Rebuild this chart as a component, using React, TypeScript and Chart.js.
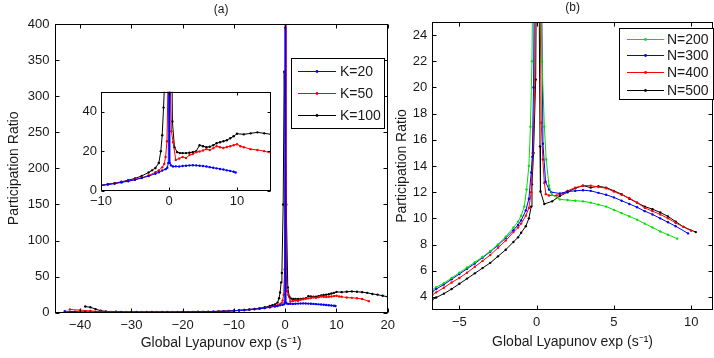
import React, { useEffect, useRef } from 'react';
import { Chart, registerables } from 'chart.js';
Chart.register(...registerables);

const FONT = '"Liberation Sans", Arial, Helvetica, sans-serif';

// ---------- shared text ----------
const xLabel = 'Global Lyapunov exp (s\u207B\u00B9)';
const yLabel = 'Participation Ratio';

// ---------- panel (a) ----------
const aTitle = '(a)';
const aXTicks = [-40, -30, -20, -10, 0, 10, 20];
const aYTicks = [0, 50, 100, 150, 200, 250, 300, 350, 400];
const insetXTicks = [-10, 0, 10];
const insetYTicks = [0, 20, 40];
const aLabels = ['K=20', 'K=50', 'K=100'];

const k20X = [-43, -41, -39, -37, -35, -32, -29, -26, -23, -20, -17, -14, -12, -10, -9, -8, -7, -6, -5, -4, -3, -2, -1.5, -1, -0.5, -0.25, -0.1, 0, 0.1, 0.3, 0.6, 1, 1.5, 2, 2.5, 3, 3.5, 4, 4.5, 5, 5.5, 6, 6.5, 7, 7.5, 8, 8.5, 9, 9.5, 9.8];
const k20Y = [2.0, 1.5, 1.2, 1.0, 0.9, 0.9, 0.9, 1.0, 1.0, 1.1, 1.3, 1.6, 2.0, 2.6, 3.1, 3.6, 4.2, 4.8, 5.5, 6.4, 7.4, 8.6, 9.3, 10.2, 10.9, 11.6, 14, 395, 14, 12.8, 12.2, 12.3, 12.2, 12.5, 12.6, 12.8, 12.9, 12.8, 12.6, 12.5, 12.2, 11.9, 11.6, 11.3, 11.0, 10.7, 10.3, 10.0, 9.6, 9.2];

const k50X = [-42, -40, -38, -36, -34, -31, -28, -25, -22, -19, -16, -13, -11, -10, -9, -8, -7, -6, -5, -4, -3, -2, -1.5, -1, -0.7, -0.5, -0.3, -0.12, 0, 0.15, 0.35, 0.6, 1.0, 1.5, 2.0, 2.5, 3.0, 3.5, 4.0, 4.5, 5.0, 5.5, 6.0, 6.5, 7.0, 7.5, 8.0, 8.5, 9.0, 9.5, 10.0, 10.5, 11, 12, 13, 14, 15, 16.3];
const k50Y = [4.5, 3.5, 2.5, 1.6, 1.2, 1.0, 1.0, 1.0, 1.1, 1.2, 1.4, 1.8, 2.3, 2.7, 3.2, 3.7, 4.3, 5.0, 5.7, 6.6, 7.7, 9.3, 10.3, 11.8, 13.5, 17, 25, 60, 420, 60, 30, 24.5, 15.5, 16.3, 17, 16.5, 18, 18.5, 19.5, 19.8, 20.3, 21, 20.6, 21.5, 22.5, 22, 21.6, 22.1, 22.5, 23, 23.5, 22.5, 22, 21, 20.6, 20, 19, 16];

const k100X = [-39, -38, -37, -36, -35, -33, -30, -27, -24, -21, -18, -15, -13, -11, -10, -9, -8, -7, -6, -5, -4, -3, -2.5, -2, -1.5, -1.2, -1, -0.8, -0.65, -0.4, -0.2, 0.2, 0.5, 0.8, 1.2, 1.6, 2, 2.5, 3, 3.5, 4, 4.5, 5, 5.5, 6, 6.5, 7, 7.5, 8, 8.5, 9, 9.5, 10, 11, 12, 13, 14, 15, 16, 17, 18, 19, 20];
const k100Y = [8.5, 7.5, 5, 2.8, 1.8, 1.3, 1.1, 1.0, 1.0, 1.1, 1.2, 1.5, 1.9, 2.4, 2.8, 3.3, 3.8, 4.5, 5.3, 6.2, 7.5, 9.2, 10.3, 11.5, 14, 20, 28, 42, 55, 150, 334, 150, 35, 22, 19.5, 19, 19, 19, 19.2, 19.5, 20, 23, 22.5, 22, 22.2, 23, 24, 24.5, 25, 25.5, 26.5, 27.5, 28.8, 28.5, 29, 29.5, 29, 28.5, 27.5, 26, 25, 23.5, 22];

// ---------- panel (b) ----------
const bTitle = '(b)';
const bXTicks = [-5, 0, 5, 10];
const bYTicks = [4, 6, 8, 10, 12, 14, 16, 18, 20, 22, 24];
const bLabels = ['N=200', 'N=300', 'N=400', 'N=500'];

const n200X = [-6.75, -6.5, -6, -5.5, -5, -4.5, -4, -3.5, -3, -2.5, -2, -1.5, -1.2, -1, -0.8, -0.65, -0.5, -0.4, -0.3, -0.2, 0.2, 0.35, 0.5, 0.62, 0.8, 1.0, 1.5, 2, 2.5, 3, 3.5, 4, 4.5, 5, 5.5, 6, 6.5, 7, 7.5, 8, 8.5, 9.1];
const n200Y = [4.55, 4.75, 5.05, 5.45, 5.85, 6.25, 6.65, 7.05, 7.5, 8.0, 8.6, 9.3, 9.75, 10.2, 10.9, 12.2, 14, 17, 22, 35, 35, 22, 17, 14.5, 12.5, 11.8, 11.45, 11.4, 11.35, 11.3, 11.2, 11.05, 10.9, 10.65, 10.4, 10.15, 9.9, 9.6, 9.3, 9.0, 8.75, 8.45];

const n300X = [-6.75, -6.5, -6, -5.5, -5, -4.5, -4, -3.5, -3, -2.5, -2, -1.5, -1.2, -1, -0.7, -0.5, -0.35, -0.28, -0.2, -0.1, 0.3, 0.41, 0.58, 0.8, 0.95, 1.5, 2, 2.5, 3, 3.5, 4, 4.5, 5, 5.5, 6, 6.5, 7, 7.5, 8, 8.5, 9, 9.8];
const n300Y = [4.4, 4.6, 4.95, 5.35, 5.75, 6.15, 6.55, 7.0, 7.45, 7.95, 8.5, 9.1, 9.5, 9.85, 10.6, 11.5, 13.5, 14.7, 20, 35, 30, 15.7, 12.8, 12.2, 12.0, 11.9, 12.05, 12.1, 12.15, 12.1, 11.95, 11.8, 11.6, 11.35, 11.1, 10.85, 10.55, 10.3, 10.0, 9.7, 9.4, 8.85];

const n400X = [-6.75, -6.5, -6, -5.5, -5, -4.5, -4, -3.5, -3, -2.5, -2, -1.5, -1.2, -1, -0.7, -0.5, -0.35, -0.25, -0.13, -0.05, 0.2, 0.3, 0.4, 0.5, 0.6, 0.8, 1.3, 1.7, 2, 2.5, 3, 3.5, 4, 4.5, 5, 5.5, 6, 6.5, 7, 7.5, 8, 8.5, 9, 9.5, 10];
const n400Y = [4.15, 4.35, 4.7, 5.1, 5.45, 5.85, 6.3, 6.75, 7.2, 7.75, 8.3, 8.95, 9.3, 9.6, 10.2, 10.8, 12, 15, 19.4, 35, 30, 17.3, 14.5, 12.7, 11.85, 11.75, 11.75, 11.9, 12.1, 12.35, 12.5, 12.5, 12.4, 12.3, 12.05, 11.8, 11.55, 11.2, 10.8, 10.55, 10.3, 10.0, 9.65, 9.35, 9.05];

const n500X = [-6.75, -6.5, -6, -5.5, -5, -4.5, -4, -3.5, -3, -2.5, -2, -1.5, -1.2, -1, -0.7, -0.5, -0.35, -0.3, -0.2, -0.06, 0.02, 0.15, 0.22, 0.25, 0.5, 1, 1.5, 2, 2.5, 3, 3.5, 4, 4.5, 5, 5.5, 6, 6.5, 7, 7.5, 8, 8.5, 9, 9.5, 10.3];
const n500Y = [3.8, 3.95, 4.25, 4.6, 5.0, 5.4, 5.8, 6.2, 6.6, 7.1, 7.6, 8.2, 8.55, 8.9, 9.4, 10.0, 10.9, 12.6, 15, 20.6, 35, 30, 15.5, 12.05, 11.1, 11.3, 11.7, 12.0, 12.3, 12.5, 12.35, 12.45, 12.35, 12.1, 11.85, 11.5, 11.2, 10.9, 10.7, 10.45, 10.15, 9.75, 9.35, 8.95];

const BLUE = '#0000ff';
const RED = '#ff0000';
const BLACK = '#000000';
const GREEN = '#00e000';
const TEXT = '#1a1a1a';

function fmt(v: number): string {
  return v < 0 ? '\u2212' + Math.abs(v) : String(v);
}

function series(label: string, xs: number[], ys: number[], color: string) {
  return {
    label,
    data: xs.map((x, i) => ({ x, y: ys[i] })),
    borderColor: color,
    backgroundColor: color,
    borderWidth: 1,
    pointRadius: 1.2,
    pointBorderWidth: 0,
    pointHoverRadius: 0,
    tension: 0,
    showLine: true,
  };
}

interface LegendCfg {
  box: [number, number, number, number];
  lineX: [number, number];
  textX: number;
  rows: number[];
}

interface PanelCfg {
  datasets: any[];
  xMin: number; xMax: number; yMin: number; yMax: number;
  xTicks: number[]; yTicks: number[];
  yAxisW: number; xAxisH: number;
  padding: { left: number; right: number; top: number; bottom: number };
  tickLen: number;
  axisTitles: boolean;
  title?: string; titleY?: number;
  legend?: LegendCfg;
  whiteBg?: boolean;
  yTitlePad?: number;
  xTitlePad?: number;
  xTickPad: number; yTickPad: number;
}

function buildConfig(p: PanelCfg): any {
  const plugin = {
    id: 'matlabStyle',
    beforeDraw(chart: any) {
      if (!p.whiteBg) return;
      const a = chart.chartArea;
      const ctx = chart.ctx;
      ctx.save();
      ctx.fillStyle = '#ffffff';
      ctx.fillRect(a.left, a.top, a.right - a.left, a.bottom - a.top);
      ctx.restore();
    },
    afterDraw(chart: any) {
      const ctx = chart.ctx;
      const a = chart.chartArea;
      const xs = chart.scales.x;
      const ys = chart.scales.y;
      ctx.save();
      ctx.strokeStyle = '#000';
      ctx.lineWidth = 1;
      const l = Math.round(a.left) + 0.5;
      const r = Math.round(a.right) - 0.5;
      const t = Math.round(a.top) + 0.5;
      const b = Math.round(a.bottom) - 0.5;
      const L = p.tickLen;
      ctx.beginPath();
      xs.ticks.forEach((tk: any) => {
        const x = Math.round(xs.getPixelForValue(tk.value)) + 0.5;
        ctx.moveTo(x, b); ctx.lineTo(x, b - L);
        ctx.moveTo(x, t); ctx.lineTo(x, t + L);
      });
      ys.ticks.forEach((tk: any) => {
        const y = Math.round(ys.getPixelForValue(tk.value)) + 0.5;
        ctx.moveTo(l, y); ctx.lineTo(l + L, y);
        ctx.moveTo(r, y); ctx.lineTo(r - L, y);
      });
      ctx.stroke();
      ctx.strokeRect(l, t, r - l, b - t);

      if (p.title) {
        ctx.fillStyle = TEXT;
        ctx.font = `12px ${FONT}`;
        ctx.textAlign = 'center';
        ctx.textBaseline = 'middle';
        ctx.fillText(p.title, (a.left + a.right) / 2, p.titleY ?? 10);
      }
      if (p.legend) {
        const lg = p.legend;
        const [bx, by, bw, bh] = lg.box;
        ctx.fillStyle = '#fff';
        ctx.fillRect(bx, by, bw, bh);
        ctx.strokeStyle = '#000';
        ctx.lineWidth = 1;
        ctx.strokeRect(bx + 0.5, by + 0.5, bw, bh);
        ctx.font = `14px ${FONT}`;
        ctx.textAlign = 'left';
        ctx.textBaseline = 'middle';
        chart.data.datasets.forEach((ds: any, i: number) => {
          const y = Math.round(lg.rows[i]) + 0.5;
          ctx.strokeStyle = ds.borderColor;
          ctx.beginPath();
          ctx.moveTo(lg.lineX[0], y);
          ctx.lineTo(lg.lineX[1], y);
          ctx.stroke();
          ctx.fillStyle = ds.borderColor;
          ctx.beginPath();
          ctx.arc((lg.lineX[0] + lg.lineX[1]) / 2, y, 1.4, 0, Math.PI * 2);
          ctx.fill();
          ctx.fillStyle = TEXT;
          ctx.fillText(ds.label, lg.textX, y + 0.5);
        });
      }
      ctx.restore();
    },
  };

  const tickFont = { family: FONT, size: 13 };
  return {
    type: 'scatter',
    data: { datasets: p.datasets },
    plugins: [plugin],
    options: {
      responsive: false,
      animation: false,
      devicePixelRatio: 1,
      events: [],
      layout: { padding: p.padding },
      plugins: { legend: { display: false }, tooltip: { enabled: false }, title: { display: false } },
      scales: {
        x: {
          type: 'linear',
          min: p.xMin,
          max: p.xMax,
          afterBuildTicks: (s: any) => { s.ticks = p.xTicks.map((v) => ({ value: v })); },
          afterFit: (s: any) => { s.height = p.xAxisH; },
          grid: { drawOnChartArea: false, drawTicks: false, display: false },
          border: { display: false },
          ticks: { font: tickFont, color: TEXT, padding: p.xTickPad, maxRotation: 0, autoSkip: false, callback: (v: any) => fmt(Number(v)) },
          title: { display: p.axisTitles, text: xLabel, font: { family: FONT, size: 14 }, color: TEXT, padding: { top: 0, bottom: p.xTitlePad ?? 7 } },
        },
        y: {
          type: 'linear',
          min: p.yMin,
          max: p.yMax,
          afterBuildTicks: (s: any) => { s.ticks = p.yTicks.map((v) => ({ value: v })); },
          afterFit: (s: any) => { s.width = p.yAxisW; },
          grid: { drawOnChartArea: false, drawTicks: false, display: false },
          border: { display: false },
          ticks: { font: tickFont, color: TEXT, padding: p.yTickPad, autoSkip: false, callback: (v: any) => fmt(Number(v)) },
          title: { display: p.axisTitles, text: yLabel, font: { family: FONT, size: 14 }, color: TEXT, padding: { top: p.yTitlePad ?? 6, bottom: 0 } },
        },
      },
    },
  };
}

function ChartCanvas(props: { left: number; top: number; width: number; height: number; cfg: PanelCfg }) {
  const ref = useRef<HTMLCanvasElement>(null);
  useEffect(() => {
    const chart = new Chart(ref.current as HTMLCanvasElement, buildConfig(props.cfg));
    return () => chart.destroy();
  }, []);
  return (
    <canvas
      ref={ref}
      width={props.width}
      height={props.height}
      style={{ position: 'absolute', left: props.left, top: props.top, width: props.width, height: props.height }}
    />
  );
}

const aDatasets = () => [
  series(aLabels[0], k20X, k20Y, BLUE),
  series(aLabels[1], k50X, k50Y, RED),
  series(aLabels[2], k100X, k100Y, BLACK),
];

const panelA: PanelCfg = {
  datasets: aDatasets(),
  xMin: -45, xMax: 20, yMin: 0, yMax: 400,
  xTicks: aXTicks, yTicks: aYTicks,
  yAxisW: 54.5, xAxisH: 45.3,
  padding: { left: 0, right: 11, top: 24, bottom: 0 },
  tickLen: 4,
  axisTitles: true,
  title: aTitle, titleY: 10,
  legend: { box: [291, 58, 93, 70], lineX: [298, 336], textX: 340, rows: [71, 93, 115] },
  xTickPad: 5, yTickPad: 5,
  yTitlePad: 6, xTitlePad: 6,
};

const inset: PanelCfg = {
  datasets: aDatasets(),
  xMin: -10, xMax: 15, yMin: 0, yMax: 50,
  xTicks: insetXTicks, yTicks: insetYTicks,
  yAxisW: 41, xAxisH: 24.3,
  padding: { left: 0, right: 9, top: 7, bottom: 0 },
  tickLen: 3,
  axisTitles: false,
  whiteBg: true,
  xTickPad: 3, yTickPad: 4,
};

const panelB: PanelCfg = {
  datasets: [
    series(bLabels[0], n200X, n200Y, GREEN),
    series(bLabels[1], n300X, n300Y, BLUE),
    series(bLabels[2], n400X, n400Y, RED),
    series(bLabels[3], n500X, n500Y, BLACK),
  ],
  xMin: -6.75, xMax: 11.4, yMin: 3, yMax: 25,
  xTicks: bXTicks, yTicks: bYTicks,
  yAxisW: 42.3, xAxisH: 48,
  padding: { left: 0, right: 0.7, top: 22, bottom: 0 },
  tickLen: 4,
  axisTitles: true,
  title: bTitle, titleY: 8,
  legend: { box: [229, 28, 94, 71], lineX: [237, 274], textX: 277, rows: [38.5, 55, 72, 89.5] },
  xTickPad: 5, yTickPad: 5,
  yTitlePad: 4, xTitlePad: 7,
};

export default function App() {
  useEffect(() => {
    document.body.style.margin = '0';
  }, []);
  return (
    <div style={{ position: 'relative', width: 714, height: 358, background: '#fff', overflow: 'hidden' }}>
      <ChartCanvas left={0} top={0} width={400} height={358} cfg={panelA} />
      <ChartCanvas left={390} top={0} width={324} height={358} cfg={panelB} />
      <ChartCanvas left={60} top={80} width={220} height={135} cfg={inset} />
    </div>
  );
}
